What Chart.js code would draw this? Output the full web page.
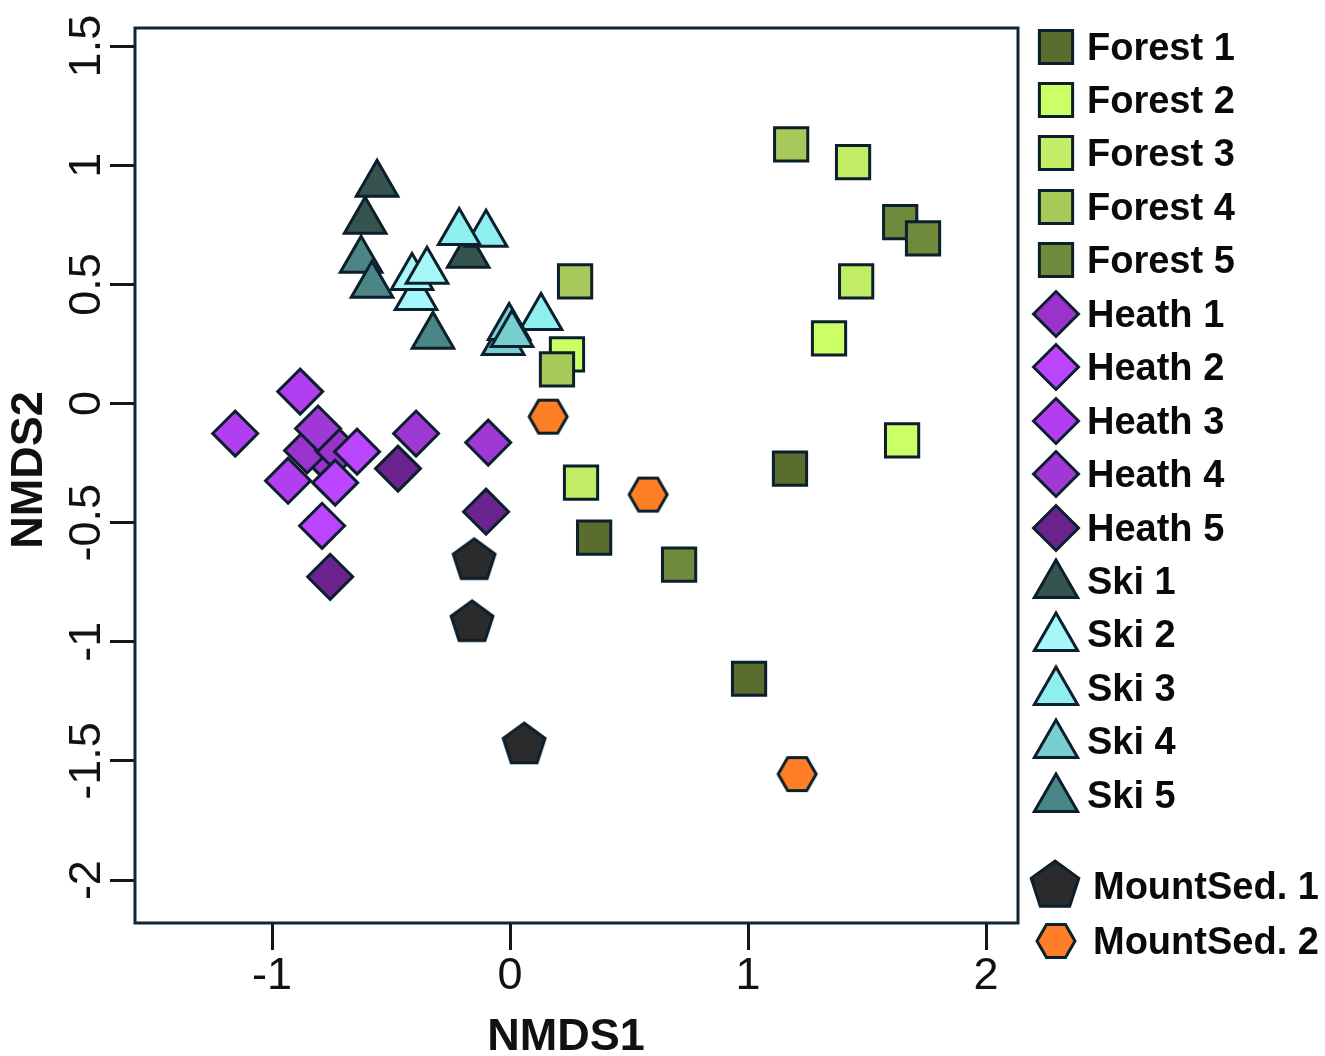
<!DOCTYPE html>
<html>
<head>
<meta charset="utf-8">
<script src="https://cdn.jsdelivr.net/npm/chart.js@4.4.1/dist/chart.umd.min.js"></script>
<style>
  html, body { margin: 0; padding: 0; background: #fff; }
</style>
</head>
<body>
<canvas id="nmds" width="1325" height="1056"></canvas>
<script>
// NMDS site scores, [NMDS1, NMDS2]
const forest1 = [[1.176, -0.273], [0.353, -0.563], [1.004, -1.155]];
const forest2 = [[1.340, 0.273], [1.647, -0.155], [0.239, 0.206]];
const forest3 = [[1.441, 1.013], [1.454, 0.513], [0.298, -0.332]];
const forest4 = [[1.181, 1.088], [0.273, 0.513], [0.197, 0.143]];
const forest5 = [[1.639, 0.761], [1.735, 0.693], [0.710, -0.676]];
const heath1 = [[-0.777, -0.227], [-0.853, -0.197], [-0.723, -0.197]];
const heath2 = [[-0.643, -0.202], [-0.735, -0.332], [-0.790, -0.513]];
const heath3 = [[-1.155, -0.126], [-0.882, 0.050], [-0.933, -0.324]];
const heath4 = [[-0.807, -0.105], [-0.395, -0.126], [-0.092, -0.164]];
const heath5 = [[-0.756, -0.727], [-0.471, -0.273], [-0.101, -0.454]];
const ski1 = [[-0.559, 0.920], [-0.609, 0.765], [-0.176, 0.622]];
const ski2 = [[-0.395, 0.445], [-0.412, 0.529], [-0.349, 0.555]];
const ski3 = [[-0.101, 0.710], [-0.214, 0.718], [0.130, 0.361]];
const ski4 = [[-0.029, 0.256], [-0.004, 0.319], [0.008, 0.290]];
const ski5 = [[-0.626, 0.601], [-0.580, 0.496], [-0.324, 0.282]];
const mountSed1 = [[-0.151, -0.660], [-0.160, -0.920], [0.059, -1.433]];
const mountSed2 = [[0.160, -0.055], [0.580, -0.382], [1.206, -1.555]];

const groupLabels = ['Forest 1', 'Forest 2', 'Forest 3', 'Forest 4', 'Forest 5',
  'Heath 1', 'Heath 2', 'Heath 3', 'Heath 4', 'Heath 5',
  'Ski 1', 'Ski 2', 'Ski 3', 'Ski 4', 'Ski 5',
  'MountSed. 1', 'MountSed. 2'];
const groupData = [forest1, forest2, forest3, forest4, forest5,
  heath1, heath2, heath3, heath4, heath5,
  ski1, ski2, ski3, ski4, ski5, mountSed1, mountSed2];

const xTicks = [-1, 0, 1, 2];
const yTicks = [-2, -1.5, -1, -0.5, 0, 0.5, 1, 1.5];
const xTitle = 'NMDS1';
const yTitle = 'NMDS2';

// styling
const EDGE = '#0c1f2c';
const fills = ['#5b6c2f', '#ccff66', '#c1ee66', '#a6c95a', '#6f8a3a',
  '#9933cc', '#bb44ff', '#b23ef2', '#a038d6', '#6b238f',
  '#37534f', '#a6f8f8', '#8eeef0', '#78cfcf', '#4b8585',
  '#2b2b2b', '#ff7f27'];
const FONT = '"Liberation Sans", Arial, Helvetica, sans-serif';

function polygonMarker(sides, radius, fill, startAngle) {
  const size = Math.ceil(radius * 2 + 10);
  const c = document.createElement('canvas');
  c.width = size;
  c.height = size;
  const g = c.getContext('2d');
  g.beginPath();
  for (let i = 0; i < sides; i++) {
    const a = startAngle + i * 2 * Math.PI / sides;
    const px = size / 2 + radius * Math.cos(a);
    const py = size / 2 + radius * Math.sin(a);
    if (i === 0) g.moveTo(px, py); else g.lineTo(px, py);
  }
  g.closePath();
  g.fillStyle = fill;
  g.fill();
  g.lineWidth = 3;
  g.lineJoin = 'miter';
  g.strokeStyle = EDGE;
  g.stroke();
  return c;
}

function markerFor(i, legend) {
  if (i < 5) return { style: 'rect', radius: 23.5 };
  if (i < 10) return { style: 'rectRot', radius: 22.5 };
  if (i < 15) return { style: 'triangle', radius: legend ? 25 : 24 };
  if (i === 15) return { style: polygonMarker(5, legend ? 25 : 22, fills[i], -Math.PI / 2), radius: 22 };
  return { style: polygonMarker(6, 19, fills[i], 0), radius: 19 };
}

const datasets = groupData.map((pts, i) => {
  const m = markerFor(i, false);
  return {
    label: groupLabels[i],
    data: pts.map(([x, y]) => ({ x, y })),
    pointStyle: m.style,
    pointRadius: m.radius,
    pointHoverRadius: m.radius,
    backgroundColor: fills[i],
    borderColor: EDGE,
    borderWidth: 3,
    pointHoverBorderWidth: 3,
    order: -i   // later groups sit on top, as in the figure
  };
});

// frame around the plotting region
const boxPlugin = {
  id: 'box',
  afterDatasetsDraw(chart) {
    const { ctx, chartArea: a } = chart;
    ctx.save();
    ctx.strokeStyle = '#0f2636';
    ctx.lineWidth = 3;
    ctx.strokeRect(a.left, a.top, a.right - a.left, a.bottom - a.top);
    ctx.restore();
  }
};

// y tick labels rotated parallel to the axis, plus both axis titles
const axisTextPlugin = {
  id: 'axisText',
  afterDraw(chart) {
    const { ctx } = chart;
    const ys = chart.scales.y;
    ctx.save();
    ctx.fillStyle = '#111';
    ctx.textAlign = 'center';
    ctx.font = '45px ' + FONT;
    ctx.textBaseline = 'alphabetic';
    yTicks.forEach(v => {
      ctx.save();
      ctx.translate(100, ys.getPixelForValue(v));
      ctx.rotate(-Math.PI / 2);
      ctx.fillText(String(v), 0, 0);
      ctx.restore();
    });
    ctx.font = 'bold 45px ' + FONT;
    ctx.textBaseline = 'middle';
    ctx.fillText(xTitle, 566, 1038);
    ctx.translate(30, 470);
    ctx.rotate(-Math.PI / 2);
    ctx.fillText(yTitle, 0, 0);
    ctx.restore();
  }
};

const legendRows = [47, 100, 153, 207, 260, 314, 367, 421, 474, 528, 581, 634, 688, 741, 795, 886, 941];
const legendPlugin = {
  id: 'sideLegend',
  afterDraw(chart) {
    const { ctx } = chart;
    ctx.save();
    ctx.font = 'bold 38px ' + FONT;
    ctx.textBaseline = 'middle';
    ctx.textAlign = 'left';
    groupLabels.forEach((label, i) => {
      const m = markerFor(i, true);
      const y = legendRows[i];
      const isTri = i >= 10 && i < 15;
      ctx.fillStyle = fills[i];
      ctx.strokeStyle = EDGE;
      ctx.lineWidth = 3;
      Chart.helpers.drawPoint(ctx, {
        pointStyle: m.style, radius: m.radius, borderWidth: 3, rotation: 0
      }, i === 15 ? 1055 : 1056, isTri ? y + 4 : y);
      ctx.fillStyle = '#0a0a0a';
      ctx.fillText(label, i >= 15 ? 1093 : 1087, y + 3);
    });
    ctx.restore();
  }
};

new Chart(document.getElementById('nmds'), {
  type: 'scatter',
  data: { datasets },
  options: {
    responsive: false,
    animation: false,
    events: [],
    layout: { padding: { top: 28, right: 307, bottom: 0, left: 0 } },
    plugins: { legend: { display: false }, tooltip: { enabled: false } },
    scales: {
      x: {
        type: 'linear',
        min: -1.576,
        max: 2.134,
        afterBuildTicks: s => { s.ticks = xTicks.map(v => ({ value: v })); },
        afterFit: s => { s.height = 133; },
        border: { display: false },
        grid: { drawOnChartArea: false, drawTicks: true, tickLength: 27, color: '#151515', lineWidth: 3 },
        ticks: {
          padding: 0,
          color: '#111',
          font: { family: FONT, size: 45, lineHeight: 1.2 },
          callback: v => String(v),
          maxRotation: 0
        },
        title: { display: false }
      },
      y: {
        type: 'linear',
        min: -2.18,
        max: 1.576,
        afterBuildTicks: s => { s.ticks = yTicks.map(v => ({ value: v })); },
        afterFit: s => { s.width = 135; },
        border: { display: false },
        grid: { drawOnChartArea: false, drawTicks: true, tickLength: 25, color: '#151515', lineWidth: 3 },
        ticks: { display: false },
        title: { display: false }
      }
    }
  },
  plugins: [boxPlugin, axisTextPlugin, legendPlugin]
});
</script>
</body>
</html>
